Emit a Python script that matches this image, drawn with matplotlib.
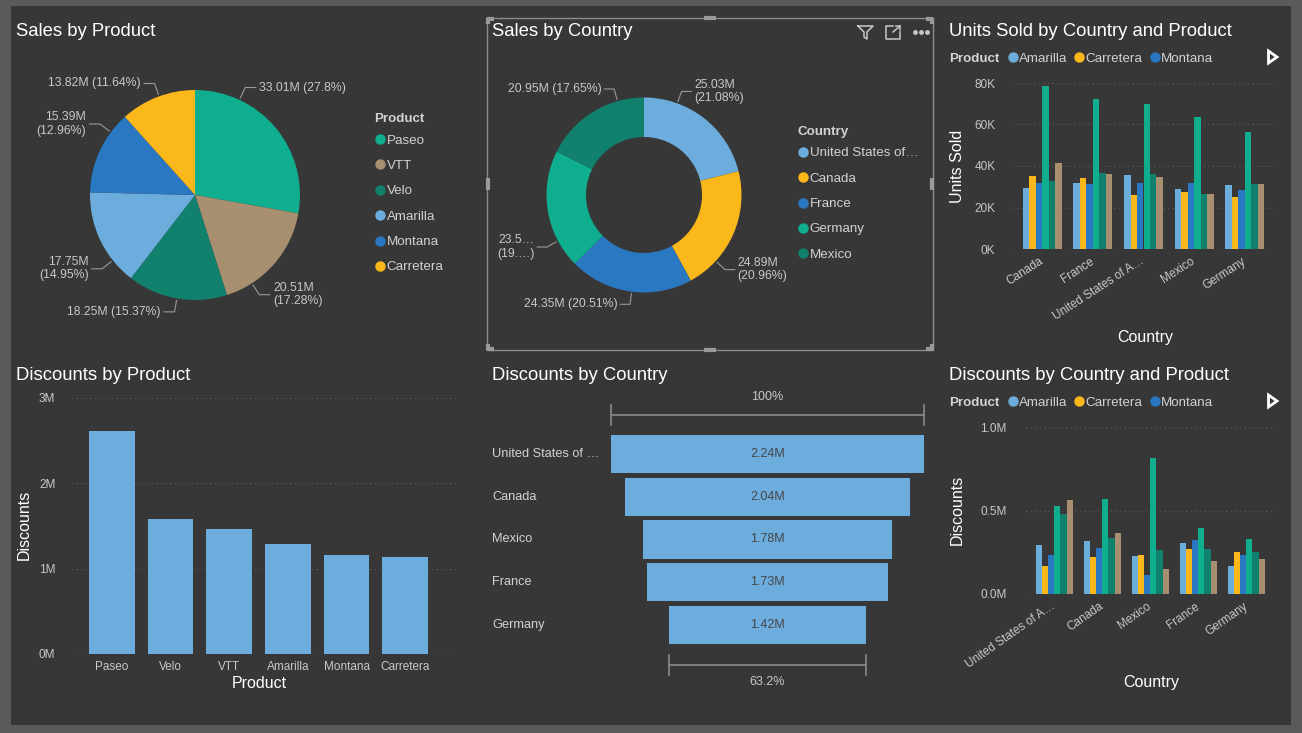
import numpy as np
import matplotlib
matplotlib.use("Agg")
import matplotlib.pyplot as plt
import matplotlib.transforms as mtransforms
from matplotlib.patches import Rectangle, Polygon
from matplotlib.lines import Line2D

plt.rcParams["font.family"] = ["Liberation Sans", "DejaVu Sans"]

W, H = 1302, 733
BG = "#373737"
FRAME = "#5a5a5a"
WHITE = "#ffffff"
TICK = "#c8c8c8"
GRID = "#5c5c5c"
LEADER = "#9a9a9a"

# --- data (values in M or K) ---
products = ["Paseo", "VTT", "Velo", "Amarilla", "Montana", "Carretera"]
sales_by_product = [33.01, 20.51, 18.25, 17.75, 15.39, 13.82]
sales_product_pct = [27.8, 17.28, 15.37, 14.95, 12.96, 11.64]

countries = ["United States of America", "Canada", "France", "Germany", "Mexico"]
sales_by_country = [25.03, 24.89, 24.35, 23.51, 20.95]
sales_country_pct = [21.08, 20.96, 20.51, 19.80, 17.65]

disc_products = ["Paseo", "Velo", "VTT", "Amarilla", "Montana", "Carretera"]
disc_by_product = [2.61, 1.58, 1.46, 1.29, 1.16, 1.13]

funnel_countries = ["United States of America", "Canada", "Mexico", "France", "Germany"]
disc_by_country = [2.244, 2.04, 1.78, 1.73, 1.418]

series = ["Amarilla", "Carretera", "Montana", "Paseo", "Velo", "VTT"]

units_countries = ["Canada", "France", "United States of America", "Mexico", "Germany"]
units_amarilla = [29.6, 31.8, 35.7, 28.8, 30.9]
units_carretera = [35.2, 34.4, 26.2, 27.5, 25.3]
units_montana = [31.8, 31.4, 31.8, 32.0, 28.5]
units_paseo = [78.7, 72.2, 69.9, 63.7, 56.2]
units_velo = [32.8, 36.6, 36.2, 26.7, 31.4]
units_vtt = [41.6, 36.0, 34.9, 26.4, 31.4]

dcp_countries = ["United States of America", "Canada", "Mexico", "France", "Germany"]
dcp_amarilla = [0.295, 0.315, 0.230, 0.307, 0.168]
dcp_carretera = [0.170, 0.222, 0.236, 0.271, 0.250]
dcp_montana = [0.232, 0.275, 0.116, 0.321, 0.236]
dcp_paseo = [0.529, 0.567, 0.814, 0.393, 0.331]
dcp_velo = [0.481, 0.337, 0.263, 0.271, 0.250]
dcp_vtt = [0.563, 0.363, 0.148, 0.198, 0.212]

COL = {"Amarilla": "#6cadde", "Carretera": "#fbb81a", "Montana": "#2a78c1",
       "Paseo": "#0eae8e", "Velo": "#11806d", "VTT": "#a88f6f"}
COUNTRY_COL = ["#6cadde", "#fbb81a", "#2a78c1", "#0eae8e", "#11806d"]


def trunc(s, n):
    return s if len(s) <= n else s[:n] + "…"


fig = plt.figure(figsize=(W / 100, H / 100), dpi=100)
fig.patch.set_facecolor(FRAME)
fig.add_artist(Rectangle((11 / W, 1 - 725 / H), (1291 - 11) / W, (725 - 6) / H,
                         transform=fig.transFigure, facecolor=BG, edgecolor="none", zorder=-5))


def ftext(x, y, s, **kw):
    return fig.text(x / W, 1 - y / H, s, **kw)


def fline(xs, ys, **kw):
    fig.add_artist(Line2D([x / W for x in xs], [1 - y / H for y in ys],
                          transform=fig.transFigure, **kw))


def px_axes(x0, y0, x1, y1):
    ax = fig.add_axes([x0 / W, 1 - y1 / H, (x1 - x0) / W, (y1 - y0) / H])
    ax.set_facecolor("none")
    for s in ax.spines.values():
        s.set_visible(False)
    ax.tick_params(length=0, colors=TICK, labelsize=8.5)
    return ax


def title(x, y, s):
    ftext(x, y + 3, s, color=WHITE, fontsize=13.3, va="center", ha="left")


def dot(x, y, c, ms=6.5):
    fig.add_artist(Line2D([x / W], [1 - y / H], marker="o", ms=ms, color=c,
                          lw=0, transform=fig.transFigure))


def vert_legend(x, y0, step, head, names, colors):
    ftext(x - 6, y0 - step * 0.85, head, color="#d2d2d2", fontsize=9.6,
          fontweight="bold", va="center_baseline")
    for i, (n, c) in enumerate(zip(names, colors)):
        y = y0 + i * step
        dot(x, y, c)
        ftext(x + 6.5, y, n, color="#d2d2d2", fontsize=9.6, va="center_baseline")


def pie_labels(ax, wedges, values, pct, nudges, wrap_thr, short=()):
    for i, (w, v, p, nd) in enumerate(zip(wedges, values, pct, nudges)):
        ang = np.deg2rad((w.theta1 + w.theta2) / 2 + nd)
        c, s = np.cos(ang), np.sin(ang)
        x1, y1 = 1.13 * c, 1.13 * s
        side = 1 if c >= 0 else -1
        x2 = x1 + side * 0.1
        ax.plot([1.02 * c, x1, x2], [1.02 * s, y1, y1], color=LEADER, lw=0.8,
                clip_on=False)
        a, b = f"{v:.2f}M", f"({p:g}%)"
        if i in short:
            a, b = f"{v:.1f}…", f"({int(p)}.…)"
        lab = a + ("\n" if abs(c) > wrap_thr else " ") + b
        ax.text(x2 + side * 0.03, y1, lab, ha="left" if side > 0 else "right",
                va="center", color=TICK, fontsize=8.8, linespacing=1.15,
                clip_on=False)


# ---------- Sales by Product (pie) ----------
title(16, 28, "Sales by Product")
R = 105
ax = px_axes(195 - 1.6 * R, 195 - 1.6 * R, 195 + 1.6 * R, 195 + 1.6 * R)
wedges, _ = ax.pie(sales_by_product, colors=[COL[p] for p in products],
                   startangle=90, counterclock=False, wedgeprops=dict(linewidth=0))
ax.set_xlim(-1.6, 1.6)
ax.set_ylim(-1.6, 1.6)
pie_labels(ax, wedges, sales_by_product, sales_product_pct,
           [25, -16, 0, 13, -12, -1], 0.5)
vert_legend(380, 139, 25.4, "Product", products, [COL[p] for p in products])

# ---------- Sales by Country (donut) ----------
title(492, 28, "Sales by Country")
R = 97.5
ax = px_axes(644 - 1.6 * R, 195 - 1.6 * R, 644 + 1.6 * R, 195 + 1.6 * R)
wedges, _ = ax.pie(sales_by_country, colors=COUNTRY_COL, startangle=90,
                   counterclock=False, wedgeprops=dict(width=0.405, linewidth=0))
ax.set_xlim(-1.6, 1.6)
ax.set_ylim(-1.6, 1.6)
pie_labels(ax, wedges, sales_by_country, sales_country_pct,
           [18, -19, 1, 19, -16], 0.3, short=(3,))
vert_legend(803, 152, 25.3, "Country", [trunc(c, 16) for c in countries], COUNTRY_COL)

# selection frame + header icons
fig.add_artist(Rectangle((487 / W, 1 - 350 / H), (933 - 487) / W, (350 - 18) / H,
                         transform=fig.transFigure, fill=False, edgecolor="#8c8c8c", lw=1))
hk = dict(color="#9a9a9a", lw=3, solid_capstyle="butt")
for xs, ys in [([704, 716], [18, 18]), ([704, 716], [350, 350]),
               ([488, 488], [178, 190]), ([932, 932], [178, 190]),
               ([488, 488, 494], [24, 19, 19]), ([926, 932, 932], [19, 19, 24]),
               ([488, 488, 494], [344, 349, 349]), ([926, 932, 932], [349, 349, 344])]:
    fline(xs, ys, **hk)
ic = dict(color="#c8c8c8", lw=1.1)
fline([858, 873, 867, 867, 864, 864, 858], [26, 26, 32, 39, 37, 32, 26], **ic)
fline([893, 886, 886, 900, 900], [26, 26, 39, 39, 32], **ic)
fline([893, 900], [32, 26], **ic)
fline([896, 900, 900], [26, 26, 30], **ic)
for xd in (915, 921, 927):
    dot(xd, 32, "#c8c8c8", ms=2.5)


# ---------- grouped bar panels ----------
def grouped(box, cats, rows, ylim, yticks, ylabels, pad, rot, lab_pos, ylab, ylab_pos, leg_y):
    ax = px_axes(*box)
    x = np.arange(len(cats))
    gw = 0.77
    bw = gw / len(series)
    for i, (name, vals) in enumerate(zip(series, rows)):
        ax.bar(x - gw / 2 + bw * (i + 0.5), vals, bw, color=COL[name], linewidth=0)
    ax.set_xlim(-0.6, 4.6)
    ax.set_ylim(*ylim)
    ax.set_yticks(yticks)
    ax.set_yticklabels(ylabels)
    ax.tick_params(axis="y", pad=pad)
    ax.set_xticks(x)
    ax.set_xticklabels([trunc(c, 18) for c in cats], rotation=rot, ha="right",
                       va="center", rotation_mode="anchor")
    ax.tick_params(axis="x", pad=8)
    ax.grid(axis="y", color=GRID, linestyle=(0, (1, 3)), lw=0.8)
    ax.set_axisbelow(True)
    ftext(lab_pos[0], lab_pos[1], "Country", color=WHITE, fontsize=11.5,
          ha="center", va="center")
    ftext(ylab_pos[0], ylab_pos[1], ylab, color=WHITE, fontsize=11.5,
          ha="center", va="center", rotation=90)
    # header legend (first three items, with scroll arrow)
    ftext(949, leg_y, "Product", color="#d2d2d2", fontsize=9.6, fontweight="bold",
          va="center_baseline")
    for name, xl in zip(series[:3], (1013, 1079, 1155)):
        dot(xl, leg_y, COL[name])
        ftext(xl + 6, leg_y, name, color="#d2d2d2", fontsize=9.6, va="center_baseline")
    tri = [(1268.5, leg_y - 6), (1268.5, leg_y + 6), (1277, leg_y)]
    fig.add_artist(Polygon([(a / W, 1 - b / H) for a, b in tri], closed=True,
                           transform=fig.transFigure, facecolor="none",
                           edgecolor=WHITE, lw=2, joinstyle="miter"))


title(949, 28, "Units Sold by Country and Product")
grouped((1012, 83, 1275, 249), units_countries,
        [units_amarilla, units_carretera, units_montana, units_paseo, units_velo, units_vtt],
        (0, 80), [0, 20, 40, 60, 80], ["0K", "20K", "40K", "60K", "80K"],
        12, 33, (1145, 338), "Units Sold", (957, 166), 57)

title(949, 372, "Discounts by Country and Product")
grouped((1025.5, 427, 1275, 594), dcp_countries,
        [dcp_amarilla, dcp_carretera, dcp_montana, dcp_paseo, dcp_velo, dcp_vtt],
        (0, 1.0), [0, 0.5, 1.0], ["0.0M", "0.5M", "1.0M"],
        13.5, 35, (1151, 683), "Discounts", (957, 510), 401)

# ---------- Discounts by Product (bar) ----------
title(16, 372, "Discounts by Product")
ax = px_axes(72, 397.7, 458, 654)
xp = np.arange(len(disc_products))
ax.bar(xp, disc_by_product, 0.777, color=COL["Amarilla"], linewidth=0)
ax.set_xlim(-0.68, 5.9)
ax.set_ylim(0, 3)
ax.set_yticks([0, 1, 2, 3])
ax.set_yticklabels(["0M", "1M", "2M", "3M"])
ax.tick_params(axis="y", pad=12)
ax.set_xticks(xp)
ax.set_xticklabels(disc_products)
ax.tick_params(axis="x", pad=5)
ax.grid(axis="y", color=GRID, linestyle=(0, (1, 3)), lw=0.8)
ax.set_axisbelow(True)
ftext(259, 683, "Product", color=WHITE, fontsize=11.5, ha="center", va="center")
ftext(24, 525, "Discounts", color=WHITE, fontsize=11.5, ha="center", va="center",
      rotation=90)

# ---------- Discounts by Country (funnel) ----------
title(492, 372, "Discounts by Country")
ax = px_axes(600, 385.7, 935, 693.3)
v = np.array(disc_by_country)
yy = np.arange(len(v))
ax.barh(yy, v, left=-v / 2, height=0.9, color=COL["Amarilla"], linewidth=0)
ax.set_xlim(-1.2, 1.2)
ax.set_ylim(5.6, -1.6)
ax.set_xticks([])
ax.set_yticks([])
for yi, val in zip(yy, v):
    ax.text(0, yi, f"{val:.2f}M", ha="center", va="center", color="#454545", fontsize=9)
blend = mtransforms.blended_transform_factory(fig.transFigure, ax.transData)
for yi, c in zip(yy, funnel_countries):
    ax.text(492 / W, yi, trunc(c, 17), transform=blend, ha="left", va="center",
            color="#d2d2d2", fontsize=9.2)
bk = dict(color="#8a8a8a", lw=1.2, clip_on=False)
for yb, w, lab, yt in [(-0.91, v[0], "100%", -1.33),
                       (len(v) - 1 + 0.94, v[-1], f"{100 * v[-1] / v[0]:.1f}%", len(v) - 1 + 1.34)]:
    ax.plot([-w / 2, w / 2], [yb, yb], **bk)
    ax.plot([-w / 2, -w / 2], [yb - 0.23, yb + 0.23], **bk)
    ax.plot([w / 2, w / 2], [yb - 0.23, yb + 0.23], **bk)
    ax.text(0, yt, lab, ha="center", va="center", color=TICK, fontsize=9)

fig.savefig("out.png", dpi=100, facecolor=fig.get_facecolor())
